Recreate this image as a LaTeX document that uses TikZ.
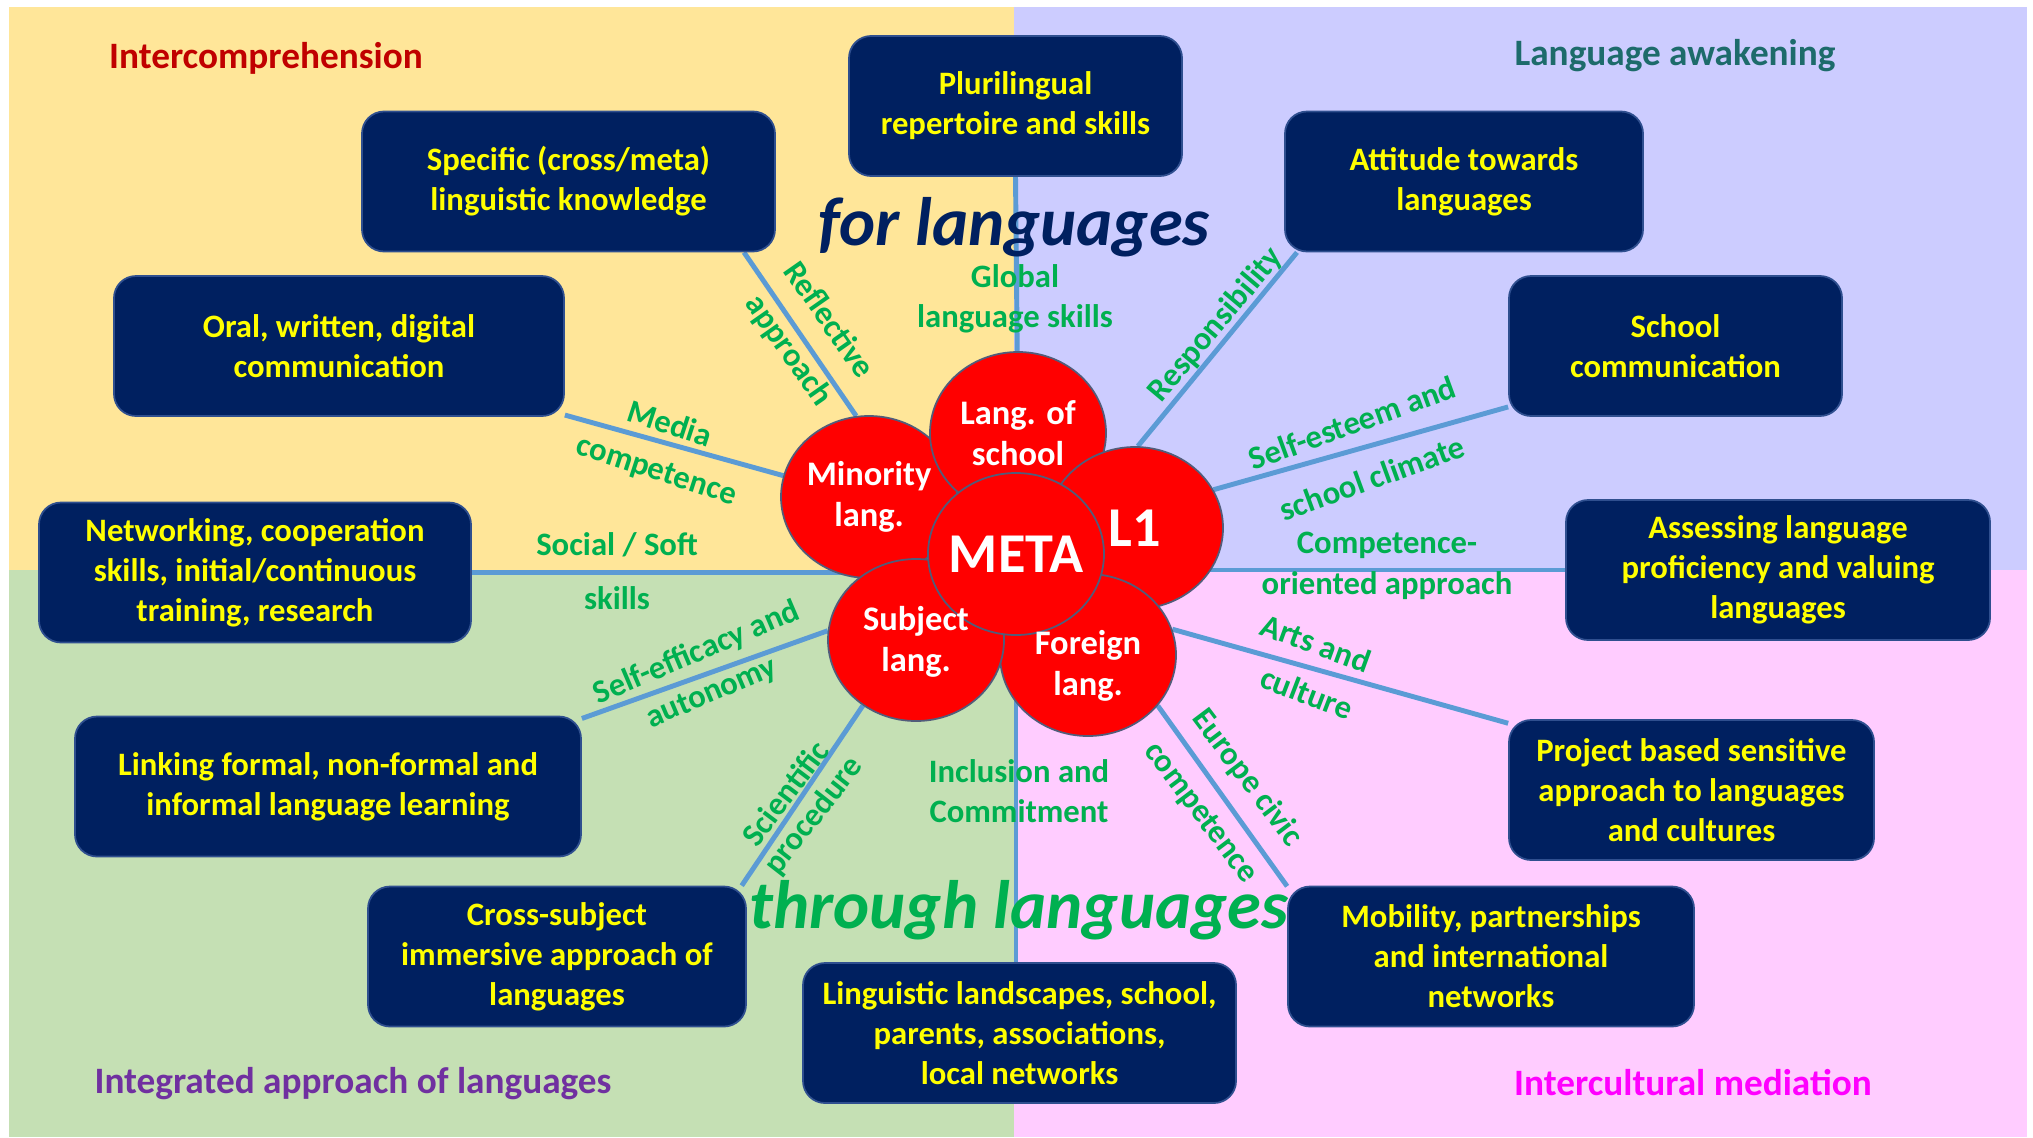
\documentclass[tikz,border=0pt]{standalone}
\usepackage{fontspec}
\setmainfont{Carlito}
\usetikzlibrary{positioning,shapes.geometric,backgrounds}
\definecolor{bgyellow}{HTML}{FFE699}
\definecolor{bgpurple}{HTML}{CCCCFF}
\definecolor{bggreen}{HTML}{C5E0B4}
\definecolor{bgpink}{HTML}{FFCCFF}
\definecolor{boxnavy}{HTML}{002060}
\definecolor{boxedge}{HTML}{2F4F8F}
\definecolor{boxyellow}{HTML}{FFFF00}
\definecolor{labgreen}{HTML}{00B050}
\definecolor{linkblue}{HTML}{5B9BD5}
\definecolor{petalred}{HTML}{FF0000}
\definecolor{petaledge}{HTML}{525C7A}
\definecolor{icred}{HTML}{C00000}
\definecolor{lateal}{HTML}{1D6B6B}
\definecolor{iapurple}{HTML}{7030A0}
\definecolor{immagenta}{HTML}{FF00FF}
\pgfdeclarelayer{links}
\pgfsetlayers{background,links,main}
\newcommand{\boxfont}{\bfseries\fontsize{9.3}{11.4}\selectfont}
\newcommand{\bigpetal}{\fontsize{16}{18}\selectfont}

\begin{document}
\begin{tikzpicture}[
    every node/.style={font=\boxfont, align=center, inner sep=0pt},
    box/.style={
      draw=boxedge, line width=0.5pt, fill=boxnavy, text=boxyellow,
      rounded corners=0.22cm, minimum height=1.40cm
    },
    petal/.style={
      ellipse, draw=petaledge, line width=0.5pt, fill=petalred,
      minimum width=1.76cm, minimum height=1.62cm
    },
    petaltext/.style={text=white, font=\bfseries\fontsize{9.8}{11.6}\selectfont},
    link/.style={linkblue, line width=1.4pt},
    lab/.style={text=labgreen},
    corner/.style={font=\bfseries\fontsize{10.6}{12}\selectfont},
    motto/.style={font=\bfseries\itshape\fontsize{19.5}{22}\selectfont, anchor=base}
  ]
  \useasboundingbox (0,0) rectangle (20.33,-11.37);

  % --- quadrants ---------------------------------------------------------
  \begin{scope}[on background layer]
    \fill[bgyellow] (0.09,-0.07) rectangle (10.14,-5.70);
    \fill[bgpurple] (10.14,-0.07) rectangle (20.27,-5.70);
    \fill[bggreen]  (0.09,-5.70) rectangle (10.14,-11.37);
    \fill[bgpink]   (10.14,-5.70) rectangle (20.27,-11.37);
  \end{scope}

  \node[corner, text=icred]     (inco) at (2.66,-0.58)   {Intercomprehension};
  \node[corner, text=lateal]    (lawa) at (16.75,-0.56)  {Language awakening};
  \node[corner, text=iapurple]  (inap) at (3.53,-10.84)  {Integrated approach of languages};
  \node[corner, text=immagenta] (inme) at (16.93,-10.83) {Intercultural mediation};

  % --- competence boxes --------------------------------------------------
  \node[box, minimum width=3.33cm] (plur) at (10.155,-1.06)  {Plurilingual\\repertoire and skills};
  \node[box, minimum width=4.13cm] (spec) at (5.685,-1.815)  {Specific (cross/meta)\\linguistic knowledge};
  \node[box, minimum width=3.58cm] (atti) at (14.64,-1.815)  {Attitude towards\\languages};
  \node[box, minimum width=4.50cm] (oral) at (3.39,-3.46)    {Oral, written, digital\\communication};
  \node[box, minimum width=3.33cm] (scho) at (16.755,-3.46)  {School\\communication};
  \node[box, minimum width=4.32cm] (netw) at (2.55,-5.725)   {Networking, cooperation\\skills, initial/continuous\\training, research};
  \node[box, minimum width=4.24cm] (asse) at (17.78,-5.70)   {Assessing language\\proficiency and valuing\\languages};
  \node[box, minimum width=5.06cm] (forml) at (3.28,-7.865)  {Linking formal, non-formal and\\informal language learning};
  \node[box, minimum width=3.65cm] (proj) at (16.915,-7.90)  {Project based sensitive\\approach to languages\\and cultures};
  \node[box, minimum width=3.78cm] (cros) at (5.57,-9.565)   {Cross-subject\\immersive approach of\\languages};
  \node[box, minimum width=4.06cm] (mobi) at (14.91,-9.565)  {Mobility, partnerships\\and international\\networks};
  \node[box, minimum width=4.33cm] (ling) at (10.195,-10.33) {Linguistic landscapes, school,\\parents, associations,\\local networks};

  % --- flower: last petal drawn lies on top, texts over all petals ----------
  \node[petal] (mino) at (8.69,-4.97)  {};
  \node[petal] (lsch) at (10.18,-4.33) {};
  \node[petal] (lone) at (11.35,-5.28) {};
  \node[petal] (fore) at (10.88,-6.55) {};
  \node[petal] (subj) at (9.16,-6.40)  {};
  \node[petal] (meta) at (10.16,-5.54) {};
  \foreach \n/\txt/\dy in {mino/{Minority\\lang.}/0, lsch/{Lang. of\\school}/0,
      lone/{\bigpetal L1}/0, fore/{Foreign\\lang.}/-0.11, subj/{Subject\\lang.}/-0.02,
      meta/{\bigpetal META}/0}
    {\node[petaltext] (\n txt) at ([yshift=\dy cm]\n.center) {\txt};}

  % --- connectors, under the petals ----------------------------------------
  \begin{pgfonlayer}{links}
    \draw[link] (plur.south) -- (lsch.center);
    \draw[link] (spec.-22) -- (mino.99);
    \draw[link] (oral.-17) -- (mino.166);
    \draw[link] (netw.east) -- (netw.east -| meta.center);
    \draw[link] (forml.15) -- (subj.174);
    \draw[link] (cros.21) -- (subj.231);
    \draw[link] (meta.center) -- (meta.center |- ling.north);
    \draw[link] (mobi.161) -- (fore.-36);
    \draw[link] (proj.160) -- (fore.17);
    \draw[link] (asse.west) -- (asse.west -| meta.center);
    \draw[link] (scho.200) -- (lone.26);
    \draw[link] (atti.203) -- (lone.88);
  \end{pgfonlayer}

  % --- connector labels ----------------------------------------------------
  \node[lab] (glob) at (10.15,-2.99) {Global\\language skills};
  \node[lab, rotate=-55] (refl) at (8.30,-3.19) {Reflective};
  \node[lab, rotate=-55] (appr) at (7.88,-3.51) {approach};
  \node[lab, rotate=-18] (medi) at (6.70,-4.23) {Media};
  \node[lab, rotate=-18] (mcmp) at (6.56,-4.72) {competence};
  \node[lab] (soci) at (6.17,-5.45) {Social / Soft};
  \node[lab] (skil) at (6.17,-5.98) {skills};
  \node[lab, rotate=23] (seff) at (6.97,-6.53) {Self-efficacy and};
  \node[lab, rotate=23] (auto) at (7.12,-6.94) {autonomy};
  \node[lab, rotate=53] (scie) at (7.85,-7.93) {Scientific};
  \node[lab, rotate=52] (proc) at (8.14,-8.16) {procedure};
  \node[lab] (incl) at (10.19,-7.91) {Inclusion and\\Commitment};
  \node[lab, rotate=-53] (euro) at (12.47,-7.78) {Europe civic};
  \node[lab, rotate=-53] (ecmp) at (12.00,-8.13) {competence};
  \node[lab, rotate=-20] (arts) at (13.16,-6.43) {Arts and};
  \node[lab, rotate=-21] (cult) at (13.07,-6.93) {culture};
  \node[lab] (cori) at (13.87,-5.45) {Competence-};
  \node[lab] (orie) at (13.87,-5.86) {oriented approach};
  \node[lab, rotate=20] (sest) at (13.52,-4.23) {Self-esteem and};
  \node[lab, rotate=20] (clim) at (13.72,-4.78) {school climate};
  \node[lab, rotate=50] (resp) at (12.16,-3.25) {Responsibility};

  % --- mottos --------------------------------------------------------------
  \node[motto, text=boxnavy]  (forl) at (10.14,-2.45) {for languages};
  \node[motto, text=labgreen] (thro) at (10.19,-9.28) {through languages};

\end{tikzpicture}
\end{document}
